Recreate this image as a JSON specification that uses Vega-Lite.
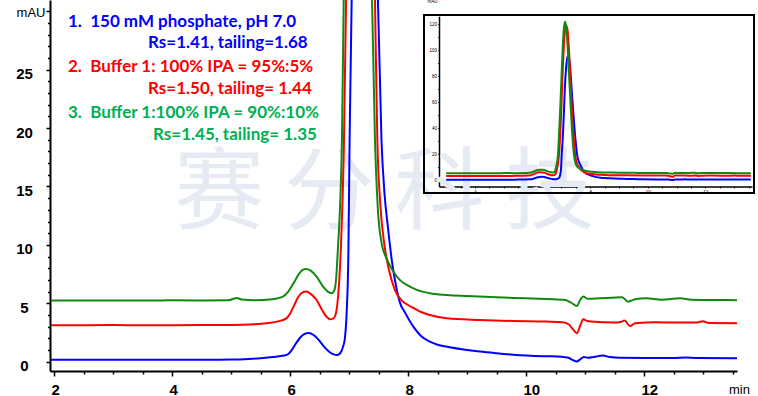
{
  "$schema": "https://vega.github.io/schema/vega-lite/v6.json",
  "width": 687,
  "height": 371,
  "autosize": {"type": "none"},
  "padding": {"left": 50, "top": 0, "right": 21, "bottom": 25},
  "background": "white",
  "config": {
    "view": {"stroke": null},
    "axis": {"grid": false, "domainColor": "black", "tickColor": "black", "labelColor": "black", "titleColor": "black", "labelFont": "Liberation Sans", "titleFont": "Liberation Sans"}
  },
  "datasets": {
    "one": [{}],
    "trace": [
      {"s": "1", "t": 1.95, "v": 0.17}, {"s": "1", "t": 2.5, "v": 0.17}, {"s": "1", "t": 3.0, "v": 0.16}, {"s": "1", "t": 3.5, "v": 0.17}, {"s": "1", "t": 4.0, "v": 0.17}, {"s": "1", "t": 4.5, "v": 0.17}, {"s": "1", "t": 5.0, "v": 0.18}, {"s": "1", "t": 5.3, "v": 0.23}, {"s": "1", "t": 5.5, "v": 0.3}, {"s": "1", "t": 5.7, "v": 0.4}, {"s": "1", "t": 5.9, "v": 0.52}, {"s": "1", "t": 5.97, "v": 0.65}, {"s": "1", "t": 6.03, "v": 1.0}, {"s": "1", "t": 6.1, "v": 1.55}, {"s": "1", "t": 6.17, "v": 2.05}, {"s": "1", "t": 6.24, "v": 2.35}, {"s": "1", "t": 6.32, "v": 2.45}, {"s": "1", "t": 6.4, "v": 2.28}, {"s": "1", "t": 6.47, "v": 1.95}, {"s": "1", "t": 6.55, "v": 1.45}, {"s": "1", "t": 6.62, "v": 1.05}, {"s": "1", "t": 6.68, "v": 0.78}, {"s": "1", "t": 6.74, "v": 0.62}, {"s": "1", "t": 6.8, "v": 0.57}, {"s": "1", "t": 6.85, "v": 0.72}, {"s": "1", "t": 6.9, "v": 1.3}, {"s": "1", "t": 6.93, "v": 2.0}, {"s": "1", "t": 6.96, "v": 4.2}, {"s": "1", "t": 6.99, "v": 9.5}, {"s": "1", "t": 7.01, "v": 19}, {"s": "1", "t": 7.045, "v": 31}, {"s": "1", "t": 7.08, "v": 48}, {"s": "1", "t": 7.12, "v": 70}, {"s": "1", "t": 7.17, "v": 88}, {"s": "1", "t": 7.23, "v": 96}, {"s": "1", "t": 7.29, "v": 90}, {"s": "1", "t": 7.35, "v": 72}, {"s": "1", "t": 7.42, "v": 50}, {"s": "1", "t": 7.49, "v": 31}, {"s": "1", "t": 7.55, "v": 19}, {"s": "1", "t": 7.6, "v": 14.5}, {"s": "1", "t": 7.66, "v": 11.5}, {"s": "1", "t": 7.73, "v": 8.5}, {"s": "1", "t": 7.8, "v": 6.4}, {"s": "1", "t": 7.86, "v": 5.1}, {"s": "1", "t": 7.95, "v": 4.2}, {"s": "1", "t": 8.09, "v": 3.0}, {"s": "1", "t": 8.22, "v": 2.2}, {"s": "1", "t": 8.37, "v": 1.71}, {"s": "1", "t": 8.5, "v": 1.45}, {"s": "1", "t": 8.66, "v": 1.28}, {"s": "1", "t": 9.0, "v": 1.0}, {"s": "1", "t": 9.22, "v": 0.86}, {"s": "1", "t": 9.5, "v": 0.72}, {"s": "1", "t": 9.78, "v": 0.6}, {"s": "1", "t": 10.3, "v": 0.47}, {"s": "1", "t": 10.6, "v": 0.43}, {"s": "1", "t": 10.72, "v": 0.33}, {"s": "1", "t": 10.8, "v": 0.12}, {"s": "1", "t": 10.86, "v": 0.02}, {"s": "1", "t": 10.92, "v": 0.2}, {"s": "1", "t": 10.98, "v": 0.4}, {"s": "1", "t": 11.05, "v": 0.33}, {"s": "1", "t": 11.15, "v": 0.4}, {"s": "1", "t": 11.3, "v": 0.52}, {"s": "1", "t": 11.42, "v": 0.4}, {"s": "1", "t": 11.6, "v": 0.33}, {"s": "1", "t": 12.0, "v": 0.32}, {"s": "1", "t": 12.5, "v": 0.32}, {"s": "1", "t": 12.7, "v": 0.36}, {"s": "1", "t": 12.9, "v": 0.32}, {"s": "1", "t": 13.58, "v": 0.3},
      {"s": "2", "t": 1.95, "v": 3.12}, {"s": "2", "t": 2.5, "v": 3.12}, {"s": "2", "t": 3.0, "v": 3.13}, {"s": "2", "t": 3.5, "v": 3.12}, {"s": "2", "t": 4.0, "v": 3.12}, {"s": "2", "t": 4.5, "v": 3.13}, {"s": "2", "t": 5.0, "v": 3.13}, {"s": "2", "t": 5.4, "v": 3.2}, {"s": "2", "t": 5.6, "v": 3.29}, {"s": "2", "t": 5.8, "v": 3.45}, {"s": "2", "t": 5.94, "v": 3.71}, {"s": "2", "t": 6.0, "v": 4.1}, {"s": "2", "t": 6.06, "v": 4.71}, {"s": "2", "t": 6.13, "v": 5.45}, {"s": "2", "t": 6.2, "v": 5.9}, {"s": "2", "t": 6.27, "v": 6.0}, {"s": "2", "t": 6.35, "v": 5.8}, {"s": "2", "t": 6.45, "v": 5.28}, {"s": "2", "t": 6.56, "v": 4.28}, {"s": "2", "t": 6.62, "v": 3.85}, {"s": "2", "t": 6.68, "v": 3.63}, {"s": "2", "t": 6.73, "v": 3.68}, {"s": "2", "t": 6.77, "v": 4.0}, {"s": "2", "t": 6.81, "v": 5.3}, {"s": "2", "t": 6.86, "v": 9.5}, {"s": "2", "t": 6.915, "v": 19}, {"s": "2", "t": 6.95, "v": 31}, {"s": "2", "t": 6.99, "v": 50}, {"s": "2", "t": 7.04, "v": 80}, {"s": "2", "t": 7.1, "v": 108}, {"s": "2", "t": 7.16, "v": 119}, {"s": "2", "t": 7.21, "v": 116}, {"s": "2", "t": 7.27, "v": 98}, {"s": "2", "t": 7.33, "v": 70}, {"s": "2", "t": 7.39, "v": 45}, {"s": "2", "t": 7.44, "v": 31}, {"s": "2", "t": 7.48, "v": 19}, {"s": "2", "t": 7.53, "v": 13.5}, {"s": "2", "t": 7.6, "v": 10}, {"s": "2", "t": 7.68, "v": 7.8}, {"s": "2", "t": 7.78, "v": 6.1}, {"s": "2", "t": 7.9, "v": 5.2}, {"s": "2", "t": 8.0, "v": 4.85}, {"s": "2", "t": 8.09, "v": 4.6}, {"s": "2", "t": 8.22, "v": 4.25}, {"s": "2", "t": 8.37, "v": 4.0}, {"s": "2", "t": 8.66, "v": 3.71}, {"s": "2", "t": 9.22, "v": 3.57}, {"s": "2", "t": 9.8, "v": 3.48}, {"s": "2", "t": 10.35, "v": 3.43}, {"s": "2", "t": 10.62, "v": 3.38}, {"s": "2", "t": 10.72, "v": 3.2}, {"s": "2", "t": 10.8, "v": 2.75}, {"s": "2", "t": 10.86, "v": 2.43}, {"s": "2", "t": 10.92, "v": 3.1}, {"s": "2", "t": 10.97, "v": 3.63}, {"s": "2", "t": 11.03, "v": 3.5}, {"s": "2", "t": 11.1, "v": 3.43}, {"s": "2", "t": 11.5, "v": 3.35}, {"s": "2", "t": 11.6, "v": 3.4}, {"s": "2", "t": 11.67, "v": 3.52}, {"s": "2", "t": 11.76, "v": 3.05}, {"s": "2", "t": 11.85, "v": 3.28}, {"s": "2", "t": 12.2, "v": 3.37}, {"s": "2", "t": 12.6, "v": 3.35}, {"s": "2", "t": 12.9, "v": 3.36}, {"s": "2", "t": 13.0, "v": 3.47}, {"s": "2", "t": 13.1, "v": 3.3}, {"s": "2", "t": 13.58, "v": 3.29},
      {"s": "3", "t": 1.95, "v": 5.23}, {"s": "3", "t": 2.5, "v": 5.23}, {"s": "3", "t": 3.0, "v": 5.24}, {"s": "3", "t": 3.5, "v": 5.23}, {"s": "3", "t": 4.0, "v": 5.25}, {"s": "3", "t": 4.5, "v": 5.24}, {"s": "3", "t": 4.95, "v": 5.25}, {"s": "3", "t": 5.04, "v": 5.38}, {"s": "3", "t": 5.1, "v": 5.45}, {"s": "3", "t": 5.18, "v": 5.32}, {"s": "3", "t": 5.4, "v": 5.26}, {"s": "3", "t": 5.7, "v": 5.35}, {"s": "3", "t": 5.88, "v": 5.57}, {"s": "3", "t": 5.97, "v": 6.0}, {"s": "3", "t": 6.06, "v": 6.71}, {"s": "3", "t": 6.15, "v": 7.5}, {"s": "3", "t": 6.22, "v": 7.88}, {"s": "3", "t": 6.27, "v": 7.94}, {"s": "3", "t": 6.35, "v": 7.8}, {"s": "3", "t": 6.45, "v": 7.28}, {"s": "3", "t": 6.56, "v": 6.42}, {"s": "3", "t": 6.64, "v": 6.0}, {"s": "3", "t": 6.7, "v": 5.86}, {"s": "3", "t": 6.75, "v": 6.1}, {"s": "3", "t": 6.78, "v": 7.0}, {"s": "3", "t": 6.81, "v": 9.5}, {"s": "3", "t": 6.88, "v": 19}, {"s": "3", "t": 6.91, "v": 31}, {"s": "3", "t": 6.96, "v": 55}, {"s": "3", "t": 7.02, "v": 88}, {"s": "3", "t": 7.08, "v": 115}, {"s": "3", "t": 7.13, "v": 122}, {"s": "3", "t": 7.18, "v": 115}, {"s": "3", "t": 7.25, "v": 88}, {"s": "3", "t": 7.32, "v": 58}, {"s": "3", "t": 7.39, "v": 31}, {"s": "3", "t": 7.44, "v": 19}, {"s": "3", "t": 7.49, "v": 13}, {"s": "3", "t": 7.55, "v": 10.2}, {"s": "3", "t": 7.64, "v": 8.8}, {"s": "3", "t": 7.74, "v": 7.8}, {"s": "3", "t": 7.86, "v": 7.0}, {"s": "3", "t": 7.98, "v": 6.57}, {"s": "3", "t": 8.15, "v": 6.15}, {"s": "3", "t": 8.37, "v": 5.86}, {"s": "3", "t": 8.66, "v": 5.71}, {"s": "3", "t": 9.0, "v": 5.62}, {"s": "3", "t": 9.5, "v": 5.51}, {"s": "3", "t": 10.0, "v": 5.42}, {"s": "3", "t": 10.46, "v": 5.34}, {"s": "3", "t": 10.65, "v": 5.3}, {"s": "3", "t": 10.75, "v": 5.1}, {"s": "3", "t": 10.86, "v": 4.77}, {"s": "3", "t": 10.92, "v": 5.3}, {"s": "3", "t": 10.97, "v": 5.57}, {"s": "3", "t": 11.05, "v": 5.38}, {"s": "3", "t": 11.25, "v": 5.42}, {"s": "3", "t": 11.47, "v": 5.48}, {"s": "3", "t": 11.63, "v": 5.52}, {"s": "3", "t": 11.73, "v": 5.14}, {"s": "3", "t": 11.85, "v": 5.35}, {"s": "3", "t": 12.04, "v": 5.43}, {"s": "3", "t": 12.3, "v": 5.3}, {"s": "3", "t": 12.61, "v": 5.43}, {"s": "3", "t": 12.8, "v": 5.3}, {"s": "3", "t": 13.2, "v": 5.28}, {"s": "3", "t": 13.58, "v": 5.26}
    ]
  },
  "layer": [
    {
      "data": {"name": "one"},
      "mark": {"type": "text", "text": "赛 分 科 技", "font": "Noto Sans CJK SC", "fontSize": 90, "color": "#e6ebf3", "align": "center", "baseline": "middle"},
      "encoding": {
        "x": {"datum": 7.6, "type": "quantitative", "axis": null, "scale": {"domain": [1.932, 13.576], "nice": false, "zero": false}},
        "y": {"datum": 14.27, "type": "quantitative", "axis": null, "scale": {"domain": [-0.8, 30.97], "nice": false, "zero": false}}
      }
    },
    {
      "data": {"name": "trace"},
      "mark": {"type": "line", "strokeWidth": 2, "clip": true, "interpolate": "monotone"},
      "encoding": {
        "x": {
          "field": "t", "type": "quantitative",
          "scale": {"domain": [1.932, 13.576], "nice": false, "zero": false},
          "axis": {
            "orient": "bottom",
            "values": [2, 2.5, 3, 3.5, 4, 4.5, 5, 5.5, 6, 6.5, 7, 7.5, 8, 8.5, 9, 9.5, 10, 10.5, 11, 11.5, 12, 12.5, 13, 13.5],
            "labelExpr": "datum.value % 2 === 0 ? format(datum.value, 'd') : ''",
            "tickSize": {"condition": {"test": "datum.value % 2 === 0", "value": 5}, "value": 3},
            "tickWidth": 1.5, "domainWidth": 2,
            "labelFontSize": 15, "labelFontWeight": "bold", "labelAlign": "left", "labelOffset": -3, "labelBaseline": "top", "labelPadding": 6, "labelOverlap": false,
            "title": "min", "titleX": 689, "titleY": 18, "titleAlign": "center", "titleBaseline": "middle", "titleFontSize": 13, "titleFontWeight": "normal"
          }
        },
        "y": {
          "field": "v", "type": "quantitative",
          "scale": {"domain": [-0.8, 30.97], "nice": false, "zero": false},
          "axis": {
            "orient": "left",
            "values": [0, 1, 2, 3, 4, 5, 6, 7, 8, 9, 10, 11, 12, 13, 14, 15, 16, 17, 18, 19, 20, 21, 22, 23, 24, 25, 26, 27, 28, 29, 30],
            "labelExpr": "datum.value % 5 === 0 && datum.value < 30 ? format(datum.value, 'd') : ''",
            "tickSize": {"condition": {"test": "datum.value % 5 === 0", "value": 4}, "value": 2.5},
            "tickWidth": 1.5, "domainWidth": 2,
            "labelFontSize": 15, "labelFontWeight": "bold", "labelAlign": "center", "labelBaseline": "middle", "labelPadding": 22, "labelOffset": 4, "labelOverlap": false,
            "title": "mAU", "titleAngle": 0, "titleX": -5, "titleY": 12, "titleAlign": "right", "titleBaseline": "middle", "titleFontSize": 13, "titleFontWeight": "normal"
          }
        },
        "color": {"field": "s", "type": "nominal", "scale": {"domain": ["1", "2", "3"], "range": ["#0000ff", "#ff0000", "#118811"]}, "legend": null},
        "detail": {"field": "s"}
      }
    },
    {
      "data": {"name": "one"},
      "mark": {"type": "text", "text": "1.\u00a0 150 mM phosphate, pH 7.0", "align": "left", "baseline": "middle", "font": "Lato", "fontWeight": "bold", "fontSize": 17, "color": "#0000ff"},
      "encoding": {"x": {"datum": 2.237, "type": "quantitative", "axis": null, "scale": {"domain": [1.932, 13.576], "nice": false, "zero": false}}, "y": {"datum": 29.08, "type": "quantitative", "axis": null, "scale": {"domain": [-0.8, 30.97], "nice": false, "zero": false}}}
    },
    {
      "data": {"name": "one"},
      "mark": {"type": "text", "text": "Rs=1.41, tailing=1.68", "align": "left", "baseline": "middle", "font": "Lato", "fontWeight": "bold", "fontSize": 17, "color": "#0000ff"},
      "encoding": {"x": {"datum": 3.593, "type": "quantitative", "axis": null, "scale": {"domain": [1.932, 13.576], "nice": false, "zero": false}}, "y": {"datum": 27.29, "type": "quantitative", "axis": null, "scale": {"domain": [-0.8, 30.97], "nice": false, "zero": false}}}
    },
    {
      "data": {"name": "one"},
      "mark": {"type": "text", "text": "2.\u00a0 Buffer 1: 100% IPA = 95%:5%", "align": "left", "baseline": "middle", "font": "Lato", "fontWeight": "bold", "fontSize": 17, "color": "#ff0000"},
      "encoding": {"x": {"datum": 2.237, "type": "quantitative", "axis": null, "scale": {"domain": [1.932, 13.576], "nice": false, "zero": false}}, "y": {"datum": 25.23, "type": "quantitative", "axis": null, "scale": {"domain": [-0.8, 30.97], "nice": false, "zero": false}}}
    },
    {
      "data": {"name": "one"},
      "mark": {"type": "text", "text": "Rs=1.50, tailing= 1.44", "align": "left", "baseline": "middle", "font": "Lato", "fontWeight": "bold", "fontSize": 17, "color": "#ff0000"},
      "encoding": {"x": {"datum": 3.593, "type": "quantitative", "axis": null, "scale": {"domain": [1.932, 13.576], "nice": false, "zero": false}}, "y": {"datum": 23.35, "type": "quantitative", "axis": null, "scale": {"domain": [-0.8, 30.97], "nice": false, "zero": false}}}
    },
    {
      "data": {"name": "one"},
      "mark": {"type": "text", "text": "3.\u00a0 Buffer 1:100% IPA = 90%:10%", "align": "left", "baseline": "middle", "font": "Lato", "fontWeight": "bold", "fontSize": 17, "color": "#00b050"},
      "encoding": {"x": {"datum": 2.237, "type": "quantitative", "axis": null, "scale": {"domain": [1.932, 13.576], "nice": false, "zero": false}}, "y": {"datum": 21.29, "type": "quantitative", "axis": null, "scale": {"domain": [-0.8, 30.97], "nice": false, "zero": false}}}
    },
    {
      "data": {"name": "one"},
      "mark": {"type": "text", "text": "Rs=1.45, tailing= 1.35", "align": "left", "baseline": "middle", "font": "Lato", "fontWeight": "bold", "fontSize": 17, "color": "#00b050"},
      "encoding": {"x": {"datum": 3.678, "type": "quantitative", "axis": null, "scale": {"domain": [1.932, 13.576], "nice": false, "zero": false}}, "y": {"datum": 19.41, "type": "quantitative", "axis": null, "scale": {"domain": [-0.8, 30.97], "nice": false, "zero": false}}}
    },
    {
      "data": {"name": "one"},
      "mark": {"type": "rect", "fill": null, "stroke": "black", "strokeWidth": 2},
      "encoding": {
        "x": {"datum": 2.229, "type": "quantitative", "axis": null, "scale": {"domain": [2.75, 13.62], "range": [389, 702], "nice": false, "zero": false}},
        "x2": {"datum": 13.69},
        "y": {"datum": 126.9, "type": "quantitative", "axis": null, "scale": {"domain": [-5, 126], "range": [186.5, 16.2], "nice": false, "zero": false}},
        "y2": {"datum": -10}
      }
    },
    {
      "data": {"name": "trace"},
      "transform": [{"filter": "datum.t >= 2.75"}],
      "mark": {"type": "line", "strokeWidth": 2, "interpolate": "monotone"},
      "encoding": {
        "x": {
          "field": "t", "type": "quantitative",
          "scale": {"domain": [2.75, 13.62], "range": [389, 702], "nice": false, "zero": false},
          "axis": {
            "orient": "bottom", "offset": -184.5,
            "values": [3, 3.5, 4, 4.5, 5, 5.5, 6, 6.5, 7, 7.5, 8, 8.5, 9, 9.5, 10, 10.5, 11, 11.5, 12, 12.5, 13, 13.5],
            "labelExpr": "datum.value % 2 === 0 ? format(datum.value, 'd') : ''",
            "tickSize": 1.5, "tickWidth": 0.8, "domainWidth": 1.5,
            "labelFontSize": 4.5, "labelPadding": 1, "labelOverlap": false, "title": null
          }
        },
        "y": {
          "field": "v", "type": "quantitative",
          "scale": {"domain": [-5, 126], "range": [186.5, 16.2], "nice": false, "zero": false},
          "axis": {
            "orient": "left", "offset": -389,
            "values": [0, 10, 20, 30, 40, 50, 60, 70, 80, 90, 100, 110, 120],
            "labelExpr": "datum.value % 20 === 0 ? format(datum.value, 'd') : ''",
            "tickSize": 1.5, "tickWidth": 0.8, "domainWidth": 1.5,
            "labelFontSize": 4.5, "labelPadding": 1, "labelOverlap": false,
            "title": "mAU", "titleAngle": 0, "titleX": -2, "titleY": 1, "titleAlign": "right", "titleBaseline": "middle", "titleFontSize": 4.5, "titleFontWeight": "normal"
          }
        },
        "color": {"field": "s", "type": "nominal", "scale": {"domain": ["1", "2", "3"], "range": ["#0000ff", "#ff0000", "#118811"]}, "legend": null},
        "detail": {"field": "s"}
      }
    }
  ],
  "resolve": {"scale": {"x": "independent", "y": "independent", "color": "independent"}, "axis": {"x": "independent", "y": "independent"}}
}
